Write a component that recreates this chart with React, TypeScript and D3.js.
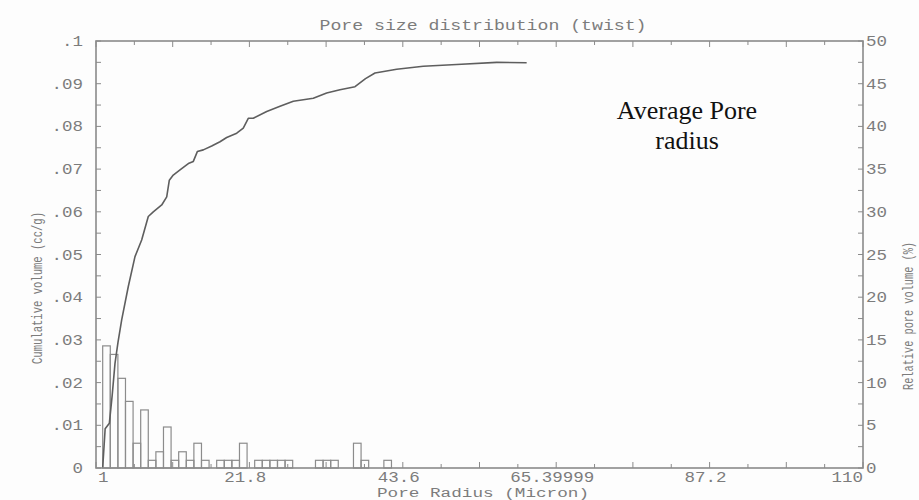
import React from "react";
import * as d3 from "d3";

// ---------- data ----------
const xTickValues = [1, 21.8, 43.6, 65.39999, 87.2, 110];
const xTickLabels = ["1", "21.8", "43.6", "65.39999", "87.2", "110"];
const yLeftTickValues = [0, 0.01, 0.02, 0.03, 0.04, 0.05, 0.06, 0.07, 0.08, 0.09, 0.1];
const yLeftTickLabels = ["0", ".01", ".02", ".03", ".04", ".05", ".06", ".07", ".08", ".09", ".1"];
const yRightTickValues = [0, 5, 10, 15, 20, 25, 30, 35, 40, 45, 50];
const yRightTickLabels = ["0", "5", "10", "15", "20", "25", "30", "35", "40", "45", "50"];

// histogram: relative pore volume (%) per bin, bins start at radius 1.95, width 1.08
const binStart = 1.95;
const binWidth = 1.08;
const relativeVolume = [
  14.3, 13.3, 10.5, 7.8, 2.9, 6.8, 0.9, 1.9, 4.8, 0.9,
  1.9, 0.9, 2.9, 0.9, 0, 0.9, 0.9, 0.9, 2.9, 0,
  0.9, 0.9, 0.9, 0.9, 0.9, 0, 0, 0, 0.9, 0.9,
  0.9, 0, 0, 2.9, 0.9, 0, 0, 0.9,
];

// cumulative volume curve (cc/g) vs pore radius (micron)
const curveRadius = [
  1.95, 2.3, 2.9, 3.3, 3.7, 4.13, 4.65, 5.59, 6.54, 7.49, 8.43, 9.14, 10.34, 11.05, 11.42,
  11.98, 12.94, 14.12, 14.83, 15.4, 16.25, 17.44, 18.62, 19.57, 21.0, 21.93, 22.64,
  23.35, 25.26, 27.15, 29.04, 31.88, 33.78, 35.67, 37.81, 39.3, 40.65, 43.73, 47.51, 52.26,
  57.94, 62.2,
];
const curveVolume = [
  0, 0.0092, 0.0105, 0.017, 0.0245, 0.0295, 0.0347, 0.0425, 0.0495, 0.0534, 0.0589, 0.06,
  0.0616, 0.0635, 0.0674, 0.0686, 0.0698, 0.0713, 0.0718, 0.0741, 0.0745, 0.0754, 0.0764,
  0.0774, 0.0784, 0.0796, 0.0819, 0.0819, 0.0835, 0.0847, 0.0859, 0.0866, 0.0878, 0.0886,
  0.0893, 0.0912, 0.0925, 0.0934, 0.0941, 0.0945, 0.095, 0.0949,
];

const titleText = "Pore size distribution (twist)";
const xTitle = "Pore Radius (Micron)";
const yLeftTitle = "Cumulative volume (cc/g)";
const yRightTitle = "Relative pore volume (%)";
const noteLines = ["Average Pore", "radius"];

// ---------- layout ----------
const W = 919;
const H = 500;
const L = 96, R = 863, T = 41, B = 468;
const AXIS = "#8a8a8a";
const TXT = "#7c7c7c";
const MONO = "'Liberation Mono', 'DejaVu Sans Mono', monospace";
const CHAR = 10.5;

const Mono = ({ x, y, text, anchor = "middle", len, size = 14, transform }: any) => (
  <text
    x={x}
    y={y}
    textAnchor={anchor}
    fontFamily={MONO}
    fontSize={size}
    fill={TXT}
    textLength={len ?? text.length * CHAR}
    lengthAdjust="spacingAndGlyphs"
    transform={transform}
  >
    {text}
  </text>
);

export default function App() {
  const x = d3.scaleLinear().domain([1, 110]).range([L, R]);
  const yL = d3.scaleLinear().domain([0, 0.1]).range([B, T]);
  const yR = d3.scaleLinear().domain([0, 50]).range([B, T]);

  const xMinor = d3.range(0, 21).map((k) => ({ v: 1 + (k * 109) / 20, major: k % 2 === 0 }));
  const yLMinor = d3.range(0, 21).map((k) => ({ v: k * 0.005 }));
  const yRMinor = d3.range(0, 21).map((k) => ({ v: k * 2.5 }));

  const line = d3
    .line<number>()
    .x((_, i) => x(curveRadius[i]))
    .y((d) => yL(d))
    .curve(d3.curveLinear);

  return (
    <svg
      width={W}
      height={H}
      style={{ position: "absolute", left: 0, top: 0, background: "#fdfdfd" }}
    >
      <rect x={0} y={0} width={W} height={H} fill="#fdfdfd" />

      {/* histogram bars */}
      {relativeVolume.map((v, i) =>
        v > 0 ? (
          <rect
            key={i}
            x={x(binStart + i * binWidth)}
            y={yR(v)}
            width={x(binStart + (i + 1) * binWidth) - x(binStart + i * binWidth)}
            height={B - yR(v)}
            fill="none"
            stroke="#8c8c8c"
            strokeWidth={1.2}
          />
        ) : null
      )}

      {/* cumulative curve */}
      <path d={line(curveVolume) || ""} fill="none" stroke="#5e5e5e" strokeWidth={1.6} strokeLinejoin="round" />

      {/* frame */}
      <rect x={L} y={T} width={R - L} height={B - T} fill="none" stroke={AXIS} strokeWidth={1.6} />

      {/* top & bottom ticks */}
      {xMinor.map((t, i) => (
        <g key={"xt" + i}>
          <line x1={x(t.v)} x2={x(t.v)} y1={T} y2={T + (t.major ? 6 : 4)} stroke={AXIS} strokeWidth={1} />
          <line x1={x(t.v)} x2={x(t.v)} y1={B} y2={B - (t.major ? 6 : 4)} stroke={AXIS} strokeWidth={1} />
        </g>
      ))}
      {/* left ticks */}
      {yLMinor.map((t, i) => (
        <line key={"yl" + i} x1={L} x2={L + 5} y1={yL(t.v)} y2={yL(t.v)} stroke={AXIS} strokeWidth={1} />
      ))}
      {/* right ticks */}
      {yRMinor.map((t, i) => (
        <line key={"yr" + i} x1={R} x2={R - 5} y1={yR(t.v)} y2={yR(t.v)} stroke={AXIS} strokeWidth={1} />
      ))}

      {/* x tick labels */}
      {xTickValues.map((v, i) => {
        const last = i === xTickValues.length - 1;
        const first = i === 0;
        return (
          <Mono
            key={"xl" + i}
            x={first ? x(v) + 2 : last ? x(v) : x(v) + 3}
            y={482}
            text={xTickLabels[i]}
            anchor={first ? "start" : last ? "end" : "middle"}
          />
        );
      })}
      {/* left labels */}
      {yLeftTickValues.map((v, i) => (
        <Mono key={"yll" + i} x={83} y={yL(v) + 5} text={yLeftTickLabels[i]} anchor="end" />
      ))}
      {/* right labels */}
      {yRightTickValues.map((v, i) => (
        <Mono key={"yrl" + i} x={866} y={yR(v) + 5} text={yRightTickLabels[i]} anchor="start" />
      ))}

      {/* titles */}
      <Mono x={483} y={30} text={titleText} len={327} />
      <Mono x={483} y={497} text={xTitle} len={212} size={12} />
      <Mono x={0} y={0} text={yLeftTitle} len={152} size={14}
        transform={`translate(42,288) rotate(-90)`} />
      <Mono x={0} y={0} text={yRightTitle} len={148} size={14}
        transform={`translate(913,316) rotate(-90)`} />

      {/* annotation */}
      {noteLines.map((t, i) => (
        <text
          key={"n" + i}
          x={687}
          y={119 + i * 30}
          textAnchor="middle"
          fontFamily="'Liberation Serif', 'Times New Roman', serif"
          fontSize={26}
          fill="#111"
        >
          {t}
        </text>
      ))}
    </svg>
  );
}
